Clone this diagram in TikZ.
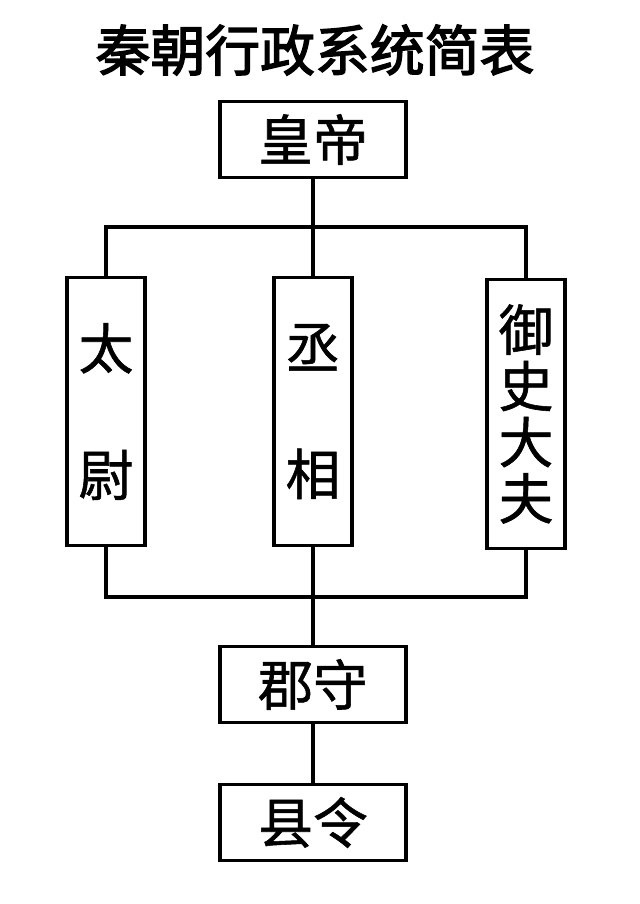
\documentclass[tikz,border=0pt]{standalone}
\usepackage{fontspec}
\newfontfamily\cjk[FakeBold=1]{Noto Sans CJK SC}
\newfontfamily\cjkbold[FakeBold=2.5]{Noto Sans CJK SC}
\tikzset{
    office/.style={draw, line width=2.2pt, inner sep=0pt, minimum width=4.65cm, minimum height=1.9cm,
        font=\cjk\fontsize{39}{40}\selectfont},
    column/.style={draw, line width=2.2pt, inner sep=0pt, minimum width=1.95cm, minimum height=6.72cm,
        align=center, font=\cjk\fontsize{39}{90}\selectfont},
    link/.style={line width=2.2pt}
}
\begin{document}
\begin{tikzpicture}[x=0.025cm, y=-0.025cm]
    \useasboundingbox (0,0) rectangle (640,904);

    % Title
    \node (title) at (315,50) {\cjkbold\fontsize{39}{40}\selectfont 秦朝行政系统简表};

    % Offices
    \node[office] (emperor) at (313,139.5) {皇帝};
    \node[column] (taiwei) at (106,411.5) {太\\尉};
    \node[column] (chengxiang) at (313,411.5) {丞\\相};
    \node[column, font=\cjk\fontsize{39}{40}\selectfont] (yushi) at (526,414) {御\\史\\大\\夫};
    \node[office] (junshou) at (313,684.5) {郡守};
    \node[office] (xianling) at (313,822.5) {县令};

    % Branch points
    \coordinate (upper) at (313,227);
    \coordinate (lower) at (313,597);

    % Connectors
    \draw[link] (emperor.south) -- (chengxiang.north);
    \draw[link] (taiwei.north) |- (upper) -| (yushi.north);
    \draw[link] (taiwei.south) |- (lower) -| (yushi.south);
    \draw[link] (chengxiang.south) -- (junshou.north);
    \draw[link] (junshou.south) -- (xianling.north);
\end{tikzpicture}
\end{document}
